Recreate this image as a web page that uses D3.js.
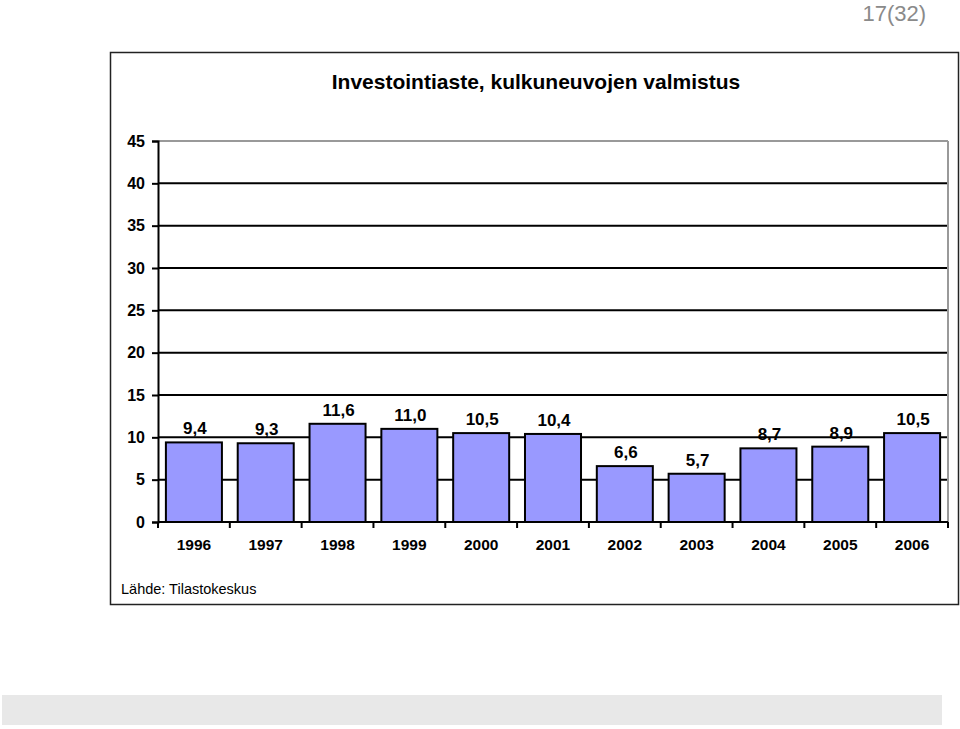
<!doctype html>
<html lang="fi">
  <head>
    <meta charset="UTF-8" />
    <title>Investointiaste, kulkuneuvojen valmistus</title>
    <script src="https://d3js.org/d3.v7.min.js"></script>
    <style>
      body,
      html {
        margin: 0;
        padding: 0;
        background: #fff;
        overflow: hidden;
      }
      svg {
        display: block;
        font-family: "Liberation Sans", Arial, sans-serif;
      }
    </style>
  </head>
  <body>
    <svg id="chart" width="960" height="729"></svg>
    <script>
      // data
      const years = ["1996", "1997", "1998", "1999", "2000", "2001", "2002", "2003", "2004", "2005", "2006"];
      const rates = [9.4, 9.3, 11.6, 11.0, 10.5, 10.4, 6.6, 5.7, 8.7, 8.9, 10.5];
      const yTicks = [0, 5, 10, 15, 20, 25, 30, 35, 40, 45];

      const svg = d3.select("#chart");

      // page number
      svg.append("text")
        .attr("x", 926).attr("y", 21)
        .attr("text-anchor", "end")
        .attr("font-size", 22)
        .attr("fill", "#8a8a8a")
        .text("17(32)");

      // outer frame
      svg.append("rect")
        .attr("x", 110.5).attr("y", 52.5)
        .attr("width", 848).attr("height", 552)
        .attr("fill", "none")
        .attr("stroke", "#222")
        .attr("stroke-width", 1.5);

      // grey band at bottom
      svg.append("rect")
        .attr("x", 2).attr("y", 695)
        .attr("width", 940).attr("height", 30)
        .attr("fill", "#e8e8e8");

      svg.append("text")
        .attr("x", 536).attr("y", 89)
        .attr("text-anchor", "middle")
        .attr("font-size", 21)
        .attr("font-weight", "bold")
        .text("Investointiaste, kulkuneuvojen valmistus");

      const plot = { left: 158, right: 948, top: 141, bottom: 522 };

      const x = d3.scaleBand()
        .domain(years)
        .range([plot.left, plot.right])
        .paddingInner(0.22)
        .paddingOuter(0.11);

      const y = d3.scaleLinear()
        .domain([0, 45])
        .range([plot.bottom, plot.top]);

      // gridlines
      svg.append("g")
        .selectAll("line")
        .data(yTicks.filter(d => d > 0))
        .join("line")
        .attr("x1", plot.left).attr("x2", plot.right)
        .attr("y1", d => y(d)).attr("y2", d => y(d))
        .attr("stroke", d => d === 45 ? "#999" : "#000")
        .attr("stroke-width", 2);

      // right plot border
      svg.append("line")
        .attr("x1", plot.right).attr("x2", plot.right)
        .attr("y1", plot.top).attr("y2", plot.bottom)
        .attr("stroke", "#999").attr("stroke-width", 2);

      // bars
      svg.append("g")
        .selectAll("rect")
        .data(rates)
        .join("rect")
        .attr("x", (d, i) => x(years[i]))
        .attr("y", d => y(d))
        .attr("width", x.bandwidth())
        .attr("height", d => y(0) - y(d))
        .attr("fill", "#9999ff")
        .attr("stroke", "#000")
        .attr("stroke-width", 2);

      // value labels
      svg.append("g")
        .selectAll("text")
        .data(rates)
        .join("text")
        .attr("x", (d, i) => x(years[i]) + x.bandwidth() / 2 + 1)
        .attr("y", d => y(d) - 8)
        .attr("text-anchor", "middle")
        .attr("font-size", 17)
        .attr("font-weight", "bold")
        .text(d => d3.format(".1f")(d).replace(".", ","));

      // y axis
      const yAxis = svg.append("g")
        .attr("transform", `translate(${plot.left},0)`)
        .call(d3.axisLeft(y).tickValues(yTicks).tickSize(6).tickPadding(7));
      yAxis.select(".domain").attr("stroke", "#000").attr("stroke-width", 2);
      yAxis.selectAll(".tick line").attr("stroke", "#000").attr("stroke-width", 2);
      yAxis.selectAll(".tick text")
        .attr("font-size", 16)
        .attr("font-weight", "bold")
        .attr("font-family", "Liberation Sans, Arial, sans-serif")
        .attr("fill", "#000");

      // x axis with ticks at band boundaries
      const xAxis = svg.append("g")
        .attr("transform", `translate(0,${plot.bottom})`);
      xAxis.append("line")
        .attr("x1", plot.left).attr("x2", plot.right)
        .attr("stroke", "#000").attr("stroke-width", 2);
      const step = x.step();
      const bounds = years.map((yr, i) => x(yr) - x.paddingInner() * step / 2).concat([plot.right]);
      xAxis.selectAll("line.tick")
        .data(bounds)
        .join("line")
        .attr("class", "tick")
        .attr("x1", d => d).attr("x2", d => d)
        .attr("y1", 0).attr("y2", 6)
        .attr("stroke", "#000").attr("stroke-width", 2);
      xAxis.selectAll("text")
        .data(years)
        .join("text")
        .attr("x", d => x(d) + x.bandwidth() / 2)
        .attr("y", 28)
        .attr("text-anchor", "middle")
        .attr("font-size", 15.5)
        .attr("font-weight", "bold")
        .text(d => d);

      svg.append("text")
        .attr("x", 121).attr("y", 594)
        .attr("font-size", 14.5)
        .text("Lähde: Tilastokeskus");
    </script>
  </body>
</html>
